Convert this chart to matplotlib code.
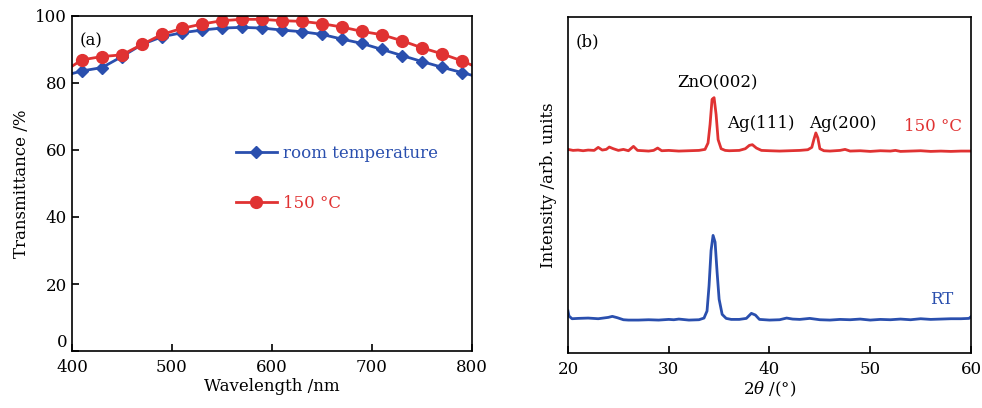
import matplotlib
matplotlib.use("Agg")
import matplotlib.pyplot as plt

plt.rcParams["font.family"] = "DejaVu Serif"
plt.rcParams["mathtext.fontset"] = "dejavuserif"
plt.rcParams["font.size"] = 12

# (a) transmittance
wl = [400, 410, 430, 450, 470, 490, 510, 530, 550, 570, 590,
      610, 630, 650, 670, 690, 710, 730, 750, 770, 790, 800]
t_rt = [82.8, 83.6, 84.6, 87.9, 91.5, 93.8, 95.0, 95.8, 96.4, 96.6, 96.4,
        95.8, 95.3, 94.5, 93.1, 91.8, 90.0, 88.2, 86.4, 84.7, 83.1, 82.3]
t_150 = [85.0, 86.9, 87.9, 88.4, 91.5, 94.5, 96.3, 97.6, 98.6, 99.0, 99.0,
         98.6, 98.4, 97.7, 96.7, 95.4, 94.4, 92.6, 90.5, 88.7, 86.6, 85.3]

# (b) XRD traces, arbitrary units
x_150 = [20, 20.5, 21, 21.5, 22, 22.6, 23.0, 23.4, 23.8, 24.1, 24.5, 25, 25.5,
         26, 26.5, 26.9, 27.5, 28, 28.5, 28.9, 29.3, 30, 31, 32, 33, 33.6,
         33.9, 34.1, 34.3, 34.5, 34.7, 34.9, 35.2, 35.6, 36, 37, 37.6, 38.0,
         38.3, 38.7, 39.2, 40, 41, 42, 43, 43.8, 44.2, 44.4, 44.6, 44.8, 45.0,
         45.4, 46, 47, 47.5, 48, 49, 50, 51, 52, 52.5, 53, 54, 55, 56, 57, 58,
         59, 60]
y_150 = [60.6, 60.3, 60.4, 60.2, 60.4, 60.3, 61.2, 60.4, 60.6, 61.3, 60.8,
         60.3, 60.6, 60.2, 61.5, 60.3, 60.2, 60.1, 60.3, 61.0, 60.2, 60.3,
         60.1, 60.2, 60.3, 60.6, 62.5, 68.0, 75.5, 76.0, 71.0, 63.5, 60.8,
         60.3, 60.2, 60.3, 60.8, 61.8, 62.0, 61.0, 60.3, 60.2, 60.1, 60.2,
         60.3, 60.5, 61.2, 63.5, 65.5, 64.0, 60.8, 60.2, 60.1, 60.3, 60.6,
         60.1, 60.2, 60.0, 60.2, 60.1, 60.3, 60.0, 60.1, 60.2, 60.0, 60.1,
         60.0, 60.1, 60.1]

x_rt = [20, 20.1, 20.4, 21, 22, 23, 24, 24.4, 24.9, 25.5, 26, 27, 28, 29, 30,
        30.5, 31, 32, 33, 33.5, 33.8, 34.0, 34.2, 34.4, 34.6, 34.8, 35.0,
        35.3, 35.7, 36.2, 37, 37.7, 38.2, 38.6, 39, 40, 41, 41.7, 42.3, 43,
        44, 45, 46, 47, 48, 49, 50, 51, 52, 53, 54, 55, 56, 57, 58, 59, 59.8,
        60]
y_rt = [12.5, 11.0, 10.2, 10.3, 10.4, 10.2, 10.6, 10.9, 10.5, 9.9, 9.8, 9.8,
        9.9, 9.8, 10.0, 9.9, 10.1, 9.8, 9.9, 10.4, 12.5, 20.0, 30.5, 35.0,
        33.0, 24.0, 16.0, 11.5, 10.3, 10.0, 10.0, 10.3, 11.8, 11.3, 10.0,
        9.8, 9.9, 10.4, 10.1, 10.0, 10.3, 9.9, 9.8, 10.0, 9.9, 10.1, 9.8,
        10.0, 9.9, 10.1, 9.9, 10.2, 10.0, 10.1, 10.2, 10.2, 10.3, 10.8]

blue = "#2a4fae"
red = "#e03232"

fig = plt.figure(figsize=(9.82, 4.08), dpi=100)
ax1 = fig.add_axes([0.0733, 0.1397, 0.4074, 0.8211])
ax2 = fig.add_axes([0.5784, 0.1348, 0.4104, 0.8235])

ax1.plot(wl, t_rt, color=blue, lw=2, marker="D", ms=6.5,
         markevery=slice(1, -1), label="room temperature")
ax1.plot(wl, t_150, color=red, lw=2, marker="o", ms=8.5,
         markevery=slice(1, -1), label="150 \u00b0C")
ax1.set_xlim(400, 800)
ax1.set_ylim(0, 100)
ax1.set_xticks([400, 500, 600, 700, 800])
ax1.set_yticks([0, 20, 40, 60, 80, 100])
ax1.set_xlabel("Wavelength /nm", labelpad=1)
ax1.set_ylabel("Transmittance /%", labelpad=4)
ax1.text(0.02, 0.95, "(a)", transform=ax1.transAxes, va="top")
leg = ax1.legend(loc="upper left", bbox_to_anchor=(0.41, 0.615), frameon=False,
                 handlelength=2.45, handletextpad=0.35, labelspacing=2.0,
                 borderpad=0, borderaxespad=0, numpoints=1)
for txt, c in zip(leg.get_texts(), [blue, red]):
    txt.set_color(c)

ax2.plot(x_150, y_150, color=red, lw=2)
ax2.plot(x_rt, y_rt, color=blue, lw=2)
ax2.set_xlim(20, 60)
ax2.set_ylim(0, 100)
ax2.set_xticks([20, 30, 40, 50, 60])
ax2.set_yticks([])
ax2.set_xlabel(r"2$\theta$ /(°)", labelpad=1)
ax2.set_ylabel("Intensity /arb. units", labelpad=8)
ax2.text(0.02, 0.95, "(b)", transform=ax2.transAxes, va="top")
ax2.text(34.8, 80.4, "ZnO(002)", ha="center", va="center")
ax2.text(39.1, 68.4, "Ag(111)", ha="center", va="center")
ax2.text(47.3, 68.4, "Ag(200)", ha="center", va="center")
ax2.text(56.2, 67.3, "150 \u00b0C", ha="center", va="center", color=red)
ax2.text(57.1, 16.0, "RT", ha="center", va="center", color=blue)

for ax in (ax1, ax2):
    ax.tick_params(direction="in", length=5, width=1.2, top=False, right=False)
    ax.tick_params(axis="x", pad=6)
    for s in ax.spines.values():
        s.set_linewidth(1.2)

# lift the y "0" label a little so it clears the "400" below it
ax1.get_yticklabels()[0].set_verticalalignment("bottom")

fig.savefig("out.png", dpi=100)
